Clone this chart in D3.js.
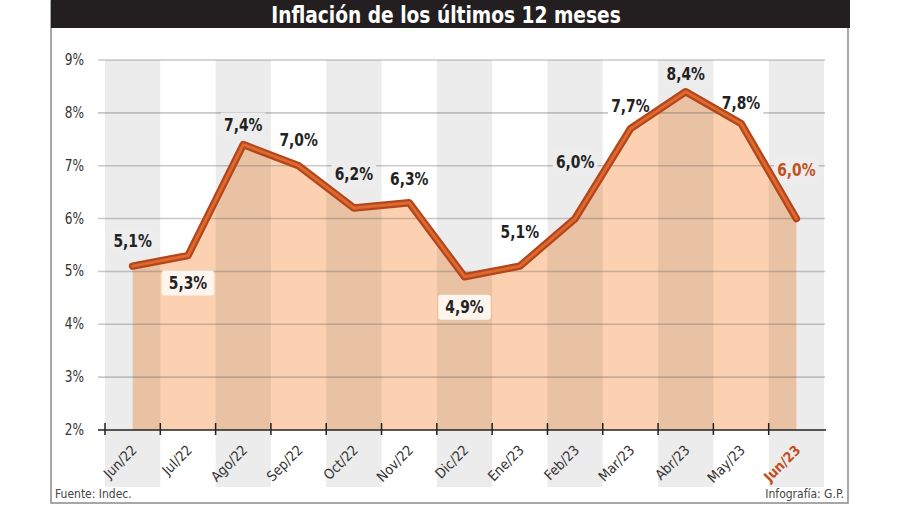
<!DOCTYPE html>
<html><head><meta charset="utf-8">
<script src="https://cdn.jsdelivr.net/npm/d3@7/dist/d3.min.js"></script>
<style>
body{margin:0;background:#fff}
text{font-family:"Liberation Sans Narrow","DejaVu Sans Condensed","Roboto",sans-serif}
</style></head>
<body><svg id="c" width="900" height="505"></svg>
<script>
const months = ["Jun/22","Jul/22","Ago/22","Sep/22","Oct/22","Nov/22","Dic/22","Ene/23","Feb/23","Mar/23","Abr/23","May/23","Jun/23"];
const inflation = [5.1,5.3,7.4,7.0,6.2,6.3,4.9,5.1,6.0,7.7,8.4,7.8,6.0];
const yTicks = [2,3,4,5,6,7,8,9];
const title = "Inflación de los últimos 12 meses";
const source = "Fuente: Indec.";
const credit = "Infografía: G.P.";

// layout (not data)
const labelDy = [-25, 27, -20, -26, -34, -24, 30, -34, -57, -23, -18, -20, -49];
const SX = 0.88;

const svg = d3.select("#c");
const fmt = v => v.toFixed(1).replace(".", ",") + "%";

const x = d3.scaleBand().domain(months).range([105, 824]).padding(0);
const y = d3.scaleLinear().domain([2, 9]).range([430, 60]);
const cx = m => x(m) + x.bandwidth() / 2;
const data = months.map((m, i) => ({m, v: inflation[i], i}));

// frame
svg.append("rect").attr("x", 51).attr("y", 1).attr("width", 797).attr("height", 502)
  .attr("fill", "#fff").attr("stroke", "#8a8a8a").attr("stroke-width", 1.5);
svg.append("rect").attr("x", 51).attr("y", 0).attr("width", 799).attr("height", 28).attr("fill", "#231f20");
svg.append("text").attr("transform", "translate(446,23) scale(0.9,1)").attr("text-anchor", "middle")
  .attr("fill", "#fff").attr("font-size", 23).attr("font-weight", "bold").text(title);

// area
const area = d3.area().x(d => cx(d.m)).y0(y(2)).y1(d => y(d.v));
svg.append("path").datum(data).attr("d", area).attr("fill", "#fcd1b1");

// bands overlay
svg.append("g").selectAll("rect").data(data.filter(d => d.i % 2 === 0)).join("rect")
  .attr("x", d => x(d.m)).attr("y", y(9)).attr("width", x.bandwidth()).attr("height", 487 - y(9))
  .attr("fill", "rgba(0,0,0,0.075)");

// gridlines
svg.append("g").selectAll("line").data(yTicks.filter(t => t > 2)).join("line")
  .attr("x1", 98).attr("x2", 825).attr("y1", d => y(d)).attr("y2", d => y(d))
  .attr("stroke", "rgba(110,110,110,0.38)").attr("stroke-width", 1.6);

// y labels
svg.append("g").selectAll("text").data(yTicks).join("text")
  .attr("transform", d => `translate(84,${y(d) + 5}) scale(0.9,1)`).attr("text-anchor", "end")
  .attr("font-size", 15).attr("fill", "#333").text(d => d + "%");

// value labels
const lab = svg.append("g");
const texts = [];
data.forEach(d => {
  const t = lab.append("text")
    .attr("transform", `translate(${cx(d.m)},${y(d.v) + labelDy[d.i] + 6}) scale(${SX},1)`)
    .attr("text-anchor", "middle").attr("font-size", 17.5).attr("font-weight", "bold")
    .attr("fill", d.i === 12 ? "#c24f1d" : "#222").text(fmt(d.v));
  texts.push(t);
});
const boxesAbove = svg.insert("g", () => lab.node());
const lineG = svg.insert("g", () => lab.node());
const boxesBelow = svg.insert("g", () => lab.node());
texts.forEach((t, i) => {
  const w = t.node().getBBox().width * SX;
  const below = labelDy[i] > 0;
  const g = below ? boxesBelow : boxesAbove;
  const pad = below ? 7 : 3;
  g.append("rect").attr("x", cx(months[i]) - w / 2 - pad).attr("y", y(inflation[i]) + labelDy[i] - 12)
    .attr("width", w + 2 * pad).attr("height", 25).attr("rx", below ? 3 : 0)
    .attr("fill", below ? "#fdf5ee" : (i % 2 === 0 ? "#ededed" : "#fff"));
});

// line
const line = d3.line().x(d => cx(d.m)).y(d => y(d.v));
lineG.append("path").datum(data).attr("d", line).attr("fill", "none")
  .attr("stroke", "#b4461a").attr("stroke-width", 7.5).attr("stroke-linejoin", "round").attr("stroke-linecap", "round");
lineG.append("path").datum(data).attr("d", line).attr("fill", "none")
  .attr("stroke", "#dc6930").attr("stroke-width", 3).attr("stroke-linejoin", "round").attr("stroke-linecap", "round");

// x axis
svg.append("line").attr("x1", 98).attr("x2", 826).attr("y1", y(2)).attr("y2", y(2))
  .attr("stroke", "#222").attr("stroke-width", 1.5);
svg.append("g").selectAll("line").data(months).join("line")
  .attr("x1", d => x(d)).attr("x2", d => x(d)).attr("y1", y(2) - 7).attr("y2", y(2) + 5)
  .attr("stroke", "#222").attr("stroke-width", 1.5);
svg.append("g").selectAll("text").data(months).join("text")
  .attr("transform", d => `translate(${cx(d) + 5},${y(2) + 21}) rotate(-45)`)
  .attr("text-anchor", "end").attr("font-size", 14)
  .attr("font-weight", (d, i) => i === 12 ? "bold" : "normal")
  .attr("fill", (d, i) => i === 12 ? "#c24f1d" : "#333").text(d => d);

// footer
svg.append("text").attr("x", 55).attr("y", 498).attr("font-size", 12).attr("fill", "#444").text(source);
svg.append("text").attr("x", 844).attr("y", 498).attr("text-anchor", "end").attr("font-size", 12).attr("fill", "#444").text(credit);
</script></body></html>
